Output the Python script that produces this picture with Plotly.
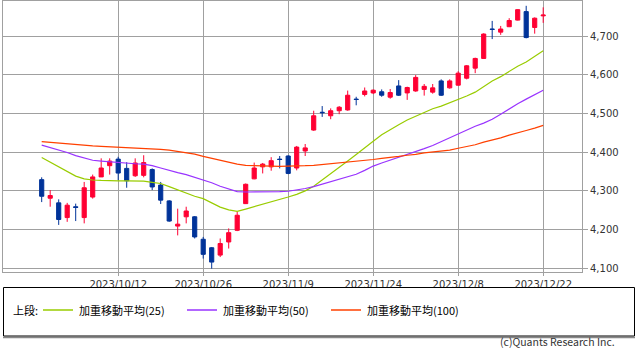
import plotly.graph_objects as go

dates = ["2023/9/28","2023/9/29","2023/10/2","2023/10/3","2023/10/4","2023/10/5","2023/10/6","2023/10/10","2023/10/11","2023/10/12",
"2023/10/13","2023/10/16","2023/10/17","2023/10/18","2023/10/19","2023/10/20","2023/10/23","2023/10/24","2023/10/25","2023/10/26",
"2023/10/27","2023/10/30","2023/10/31","2023/11/1","2023/11/2","2023/11/3","2023/11/6","2023/11/7","2023/11/8","2023/11/9",
"2023/11/10","2023/11/13","2023/11/14","2023/11/15","2023/11/16","2023/11/17","2023/11/20","2023/11/21","2023/11/22","2023/11/24",
"2023/11/27","2023/11/28","2023/11/29","2023/11/30","2023/12/1","2023/12/4","2023/12/5","2023/12/6","2023/12/7","2023/12/8",
"2023/12/11","2023/12/12","2023/12/13","2023/12/14","2023/12/15","2023/12/18","2023/12/19","2023/12/20","2023/12/21","2023/12/22"]

open_ = [4329,4281,4269,4231,4259,4231,4284,4336,4365,4382,
         4358,4339,4340,4355,4315,4274,4209,4233,4233,4175,
         4153,4134,4168,4198,4267,4331,4362,4362,4382,4390,
         4359,4403,4457,4503,4494,4507,4509,4537,4549,4553,
         4556,4542,4571,4553,4558,4562,4555,4584,4566,4573,
         4591,4617,4642,4718,4710,4724,4741,4763,4722,4752]
high = [4335,4302,4278,4269,4267,4323,4342,4384,4384,4388,
        4374,4384,4392,4358,4323,4276,4254,4259,4235,4181,
        4155,4177,4203,4246,4319,4373,4372,4387,4390,4392,
        4416,4421,4507,4519,4513,4519,4559,4543,4567,4562,
        4562,4563,4586,4569,4599,4576,4576,4588,4588,4609,
        4625,4644,4707,4739,4726,4746,4769,4778,4748,4774]
low = [4271,4259,4212,4220,4222,4216,4280,4336,4342,4327,
       4308,4336,4335,4302,4266,4220,4185,4216,4177,4125,
       4099,4129,4151,4196,4266,4330,4345,4352,4358,4343,
       4353,4390,4455,4491,4485,4498,4507,4521,4544,4550,
       4543,4538,4545,4535,4556,4546,4551,4545,4564,4572,
       4588,4604,4641,4692,4703,4723,4740,4694,4706,4734]
close = [4286,4288,4226,4263,4257,4308,4336,4359,4377,4346,
         4326,4372,4373,4310,4276,4222,4214,4248,4181,4136,
         4116,4164,4192,4237,4317,4359,4369,4378,4381,4345,
         4413,4411,4494,4502,4507,4516,4547,4536,4558,4560,
         4547,4554,4547,4567,4593,4570,4566,4547,4584,4604,
         4623,4642,4705,4717,4718,4740,4768,4696,4746,4754]

wma25 = [4386,4374,4361,4348,4338,4331,4328,4327,4326,4326,
         4326,4326,4325,4322,4319,4311,4302,4294,4286,4280,
         4268,4258,4251,4247,4253,4259,4266,4272,4278,4284,
         4291,4300,4312,4328,4343,4360,4377,4394,4410,4428,
         4445,4459,4471,4483,4493,4503,4512,4519,4527,4536,
         4545,4555,4569,4584,4595,4609,4622,4633,4647,4662]
wma50 = [4418,4412,4405,4399,4391,4384,4379,4377,4375,4373,
         4372,4370,4369,4365,4359,4352,4347,4342,4335,4329,
         4321,4312,4304,4298,4297,4297,4297,4297,4298,4299,
         4302,4306,4311,4317,4324,4330,4337,4343,4353,4364,
         4372,4379,4387,4395,4401,4409,4417,4427,4439,4448,
         4457,4467,4475,4485,4498,4512,4525,4537,4549,4560]
wma100 = [4427,4425,4423,4421,4419,4418,4416,4415,4414,4413,
          4412,4411,4410,4409,4407,4405,4402,4399,4395,4389,
          4384,4378,4373,4369,4366,4365,4364,4364,4363,4364,
          4364,4365,4366,4368,4370,4372,4375,4377,4378,4381,
          4384,4386,4389,4392,4394,4398,4400,4403,4405,4410,
          4414,4419,4426,4431,4437,4444,4451,4456,4462,4469]

tick_dates = ["2023/10/12","2023/10/26","2023/11/9","2023/11/24","2023/12/8","2023/12/22"]
y_ticks = [4100,4200,4300,4400,4500,4600,4700]

ma_names = ["加重移動平均(25)", "加重移動平均(50)", "加重移動平均(100)"]
ma_colors = ["#99CC00", "#9933FF", "#FF4000"]

RED = "#FF0033"
BLUE = "#003399"
GRID = "#A0A0A0"

fig = go.Figure()
fig.add_trace(go.Candlestick(
    x=dates, open=open_, high=high, low=low, close=close,
    increasing=dict(line=dict(color=RED, width=1), fillcolor=RED),
    decreasing=dict(line=dict(color=BLUE, width=1), fillcolor=BLUE),
    showlegend=False, hoverinfo="skip"))

for series, name, col in zip([wma25, wma50, wma100], ma_names, ma_colors):
    fig.add_trace(go.Scatter(x=dates, y=series, mode="lines", name=name,
                             line=dict(color=col, width=1.2), showlegend=False,
                             hoverinfo="skip"))

W, H = 637, 352
L, R, T, B = 3, 55, 1, 80
PW = W - L - R
PH = H - T - B

def px_x(p):
    return (p - L) / PW

def px_y(p):
    return (H - B - p) / PH

shapes = []
annotations = []
# legend box
shapes.append(dict(type="line", xref="paper", yref="paper",
                   x0=px_x(3), x1=px_x(635), y0=px_y(337.5), y1=px_y(337.5),
                   line=dict(color="#888888", width=1.5)))
shapes.append(dict(type="rect", xref="paper", yref="paper",
                   x0=px_x(3.5), x1=px_x(634.5), y0=px_y(287.5), y1=px_y(336),
                   line=dict(color="#000000", width=1), fillcolor="white"))
annotations.append(dict(xref="paper", yref="paper", x=px_x(11), y=px_y(309.5),
                        text="上段:", showarrow=False, xanchor="left", yanchor="middle",
                        font=dict(family="Noto Sans CJK JP", size=11, color="#000000")))
line_x = [43, 187, 331]
for lx, name, col in zip(line_x, ma_names, ma_colors):
    shapes.append(dict(type="line", xref="paper", yref="paper",
                       x0=px_x(lx), x1=px_x(lx + 30), y0=px_y(310), y1=px_y(310),
                       line=dict(color=col, width=1.5)))
    annotations.append(dict(xref="paper", yref="paper", x=px_x(lx + 34), y=px_y(309.5),
                            text=name, showarrow=False, xanchor="left", yanchor="middle",
                            font=dict(family="Noto Sans CJK JP", size=11, color="#000000")))
annotations.append(dict(xref="paper", yref="paper", x=px_x(617), y=px_y(351),
                        text="(c)Quants Research Inc.", showarrow=False,
                        xanchor="right", yanchor="bottom",
                        font=dict(family="Noto Sans CJK JP", size=10.5, color="#333333")))

fig.update_layout(
    width=W, height=H,
    margin=dict(l=L, r=R, t=T, b=B, pad=0),
    paper_bgcolor="white", plot_bgcolor="white",
    showlegend=False,
    shapes=shapes, annotations=annotations,
    font=dict(family="DejaVu Sans", size=10, color="#333333"),
    xaxis=dict(type="category", range=[-4.553, 63.565], rangeslider=dict(visible=False),
               tickvals=tick_dates, ticktext=tick_dates,
               showgrid=True, gridcolor=GRID, gridwidth=1,
               showline=True, linecolor=GRID, linewidth=1, mirror=True,
               ticks="outside", ticklen=3, tickcolor=GRID,
               tickfont=dict(family="DejaVu Sans", size=10, color="#333333"),
               zeroline=False),
    yaxis=dict(side="right", range=[4090.4, 4790.4], tickvals=y_ticks, tickformat=",",
               showgrid=True, gridcolor=GRID, gridwidth=1,
               showline=True, linecolor=GRID, linewidth=1, mirror=True,
               ticks="outside", ticklen=5, tickcolor=GRID,
               tickfont=dict(family="DejaVu Sans", size=10, color="#333333"),
               zeroline=False),
)

fig.write_html("out.html")
